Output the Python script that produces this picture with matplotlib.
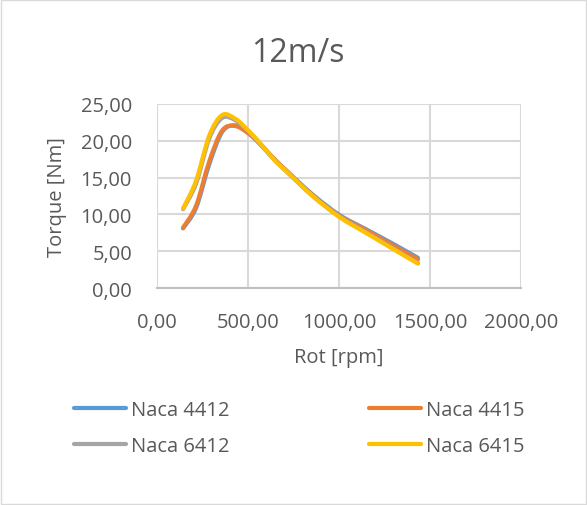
import matplotlib

matplotlib.use("Agg")
import matplotlib.pyplot as plt
import numpy as np
from matplotlib.patches import PathPatch, Rectangle
from matplotlib.path import Path

plt.rcParams["font.family"] = ["Open Sans", "DejaVu Sans"]

rpm = [143, 215, 287, 358, 430, 502, 573, 645, 717, 860, 1004, 1147, 1290, 1434]
naca_4412 = [8.1, 10.9, 16.8, 21.2, 22.1, 21.1, 19.4, 17.5, 15.8, 12.6, 9.9, 8.0, 6.1, 4.1]
naca_4415 = [8.2, 11.2, 17.2, 21.4, 22.0, 21.0, 19.4, 17.5, 15.8, 12.5, 9.8, 7.9, 5.9, 3.9]
naca_6412 = [10.7, 14.2, 20.3, 23.1, 22.8, 21.3, 19.4, 17.4, 15.7, 12.4, 9.7, 7.6, 5.5, 3.4]
naca_6415 = [10.8, 14.6, 20.7, 23.5, 23.0, 21.4, 19.5, 17.4, 15.7, 12.4, 9.6, 7.5, 5.4, 3.3]

series = [
    ("Naca 4412", naca_4412, "#5B9BD5"),
    ("Naca 4415", naca_4415, "#ED7D31"),
    ("Naca 6412", naca_6412, "#A5A5A5"),
    ("Naca 6415", naca_6415, "#FFC000"),
]

x_ticks = [0, 500, 1000, 1500, 2000]
y_ticks = [0, 5, 10, 15, 20, 25]

TEXT = "#595959"
GRID = "#D9D9D9"


def smooth_path(xs, ys):
    """Excel-style smoothed line: cubic Bezier through the points."""
    pts = np.column_stack([xs, ys]).astype(float)
    verts = [pts[0]]
    codes = [Path.MOVETO]
    n = len(pts)
    for i in range(n - 1):
        p0 = pts[i - 1] if i > 0 else pts[i]
        p1 = pts[i]
        p2 = pts[i + 1]
        p3 = pts[i + 2] if i + 2 < n else pts[i + 1]
        c1 = p1 + (p2 - p0) / 6.0
        c2 = p2 - (p3 - p1) / 6.0
        verts += [c1, c2, p2]
        codes += [Path.CURVE4] * 3
    return Path(verts, codes)


fig = plt.figure(figsize=(5.87, 5.06), dpi=100)
fig.patch.set_facecolor("white")
fig.patches.append(
    Rectangle((0.001, 0.001), 0.997, 0.997, transform=fig.transFigure,
              fill=False, edgecolor="#D9D9D9", linewidth=1.0)
)

ax = fig.add_axes([157 / 587, 1 - 289 / 506, 364 / 587, 184 / 506])
ax.set_xlim(0, 2000)
ax.set_ylim(0, 25)
ax.set_xticks(x_ticks)
ax.set_yticks(y_ticks)
ax.set_xticklabels([f"{v:.2f}".replace(".", ",") for v in x_ticks])
ax.set_yticklabels([f"{v:.2f}".replace(".", ",") for v in y_ticks])
ax.tick_params(length=0, labelsize=14.5, labelcolor=TEXT)
ax.tick_params(axis="x", pad=17)
ax.tick_params(axis="y", pad=18)
ax.grid(True, color=GRID, linewidth=1.5)
ax.set_axisbelow(True)
for side in ("top", "right", "left"):
    ax.spines[side].set_visible(False)
ax.spines["bottom"].set_color("#BFBFBF")
ax.spines["bottom"].set_linewidth(1.5)

handles = {}
for label, values, color in series:
    patch = PathPatch(smooth_path(rpm, values), facecolor="none", edgecolor=color,
                      linewidth=3.0, capstyle="round", joinstyle="round")
    ax.add_patch(patch)
    (h,) = ax.plot([], [], color=color, linewidth=3.0, solid_capstyle="round", label=label)
    handles[label] = h

ax.set_xlabel("Rot [rpm]", fontsize=14.5, color=TEXT, labelpad=11)
ax.set_ylabel("Torque [Nm]", fontsize=14.5, color=TEXT, labelpad=10)

fig.text(298 / 587, 1 - 54 / 506, "12m/s", fontsize=23, color=TEXT, ha="center", va="center")

# matplotlib fills legend columns first; order so rows read like the reference
legend_order = ["Naca 4412", "Naca 6412", "Naca 4415", "Naca 6415"]
fig.legend(handles=[handles[k] for k in legend_order], ncol=2, loc="upper left",
           bbox_to_anchor=(74 / 587, 1 - 401 / 506),
           frameon=False, fontsize=14.5, handlelength=2.6, handletextpad=0.25,
           columnspacing=6.9, labelspacing=0.78, borderpad=0, borderaxespad=0,
           labelcolor=TEXT)

fig.savefig("out.png", dpi=100, facecolor="white")
